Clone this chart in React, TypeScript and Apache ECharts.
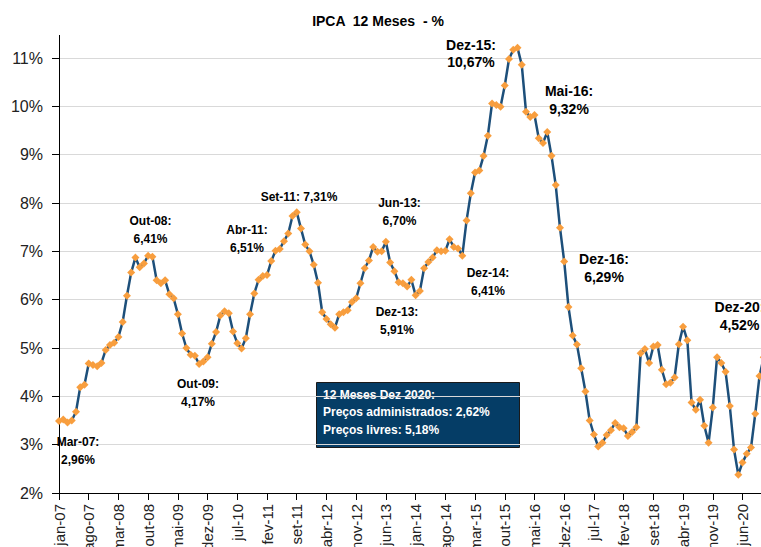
import React, { useEffect, useRef } from "react";
import * as echarts from "echarts";

const monthNames = ["jan", "fev", "mar", "abr", "mai", "jun", "jul", "ago", "set", "out", "nov", "dez"];
const yearSuffixes = ["07", "08", "09", "10", "11", "12", "13", "14", "15", "16", "17", "18", "19", "20"];

// plotted positions of the IPCA 12-month line
const ipca2007 = [3.49, 3.52, 3.46, 3.5, 3.68, 4.19, 4.24, 4.68, 4.65, 4.62, 4.69, 4.96];
const ipca2008 = [5.06, 5.11, 5.23, 5.54, 6.08, 6.56, 6.87, 6.67, 6.75, 6.91, 6.89, 6.4];
const ipca2009 = [6.34, 6.4, 6.11, 6.03, 5.7, 5.3, 5.0, 4.86, 4.84, 4.67, 4.72, 4.81];
const ipca2010 = [5.09, 5.33, 5.67, 5.76, 5.72, 5.34, 5.1, 4.99, 5.2, 5.7, 6.13, 6.41];
const ipca2011 = [6.49, 6.51, 6.8, 7.01, 7.05, 7.21, 7.37, 7.73, 7.81, 7.47, 7.14, 7.0];
const ipca2012 = [6.72, 6.35, 5.74, 5.6, 5.49, 5.42, 5.7, 5.74, 5.78, 5.95, 6.03, 6.34];
const ipca2013 = [6.65, 6.81, 7.09, 6.99, 7.0, 7.2, 6.77, 6.59, 6.36, 6.34, 6.27, 6.41];
const ipca2014 = [6.09, 6.18, 6.65, 6.78, 6.87, 7.02, 7.0, 7.01, 7.25, 7.09, 7.06, 6.91];
const ipca2015 = [7.64, 8.2, 8.63, 8.67, 8.97, 9.39, 10.06, 10.03, 9.99, 10.43, 10.98, 11.17];
const ipca2016 = [11.21, 10.86, 9.89, 9.78, 9.82, 9.34, 9.24, 9.47, 8.98, 8.37, 7.49, 6.79];
const ipca2017 = [5.85, 5.26, 5.07, 4.58, 4.1, 3.5, 3.21, 2.96, 3.04, 3.2, 3.3, 3.45];
const ipca2018 = [3.36, 3.34, 3.18, 3.26, 3.36, 4.89, 4.98, 4.69, 5.03, 5.06, 4.55, 4.25];
const ipca2019 = [4.28, 4.39, 5.08, 5.44, 5.16, 3.87, 3.72, 3.93, 3.39, 3.04, 3.77, 4.81];
const ipca2020 = [4.69, 4.51, 3.8, 2.9, 2.38, 2.63, 2.81, 2.94, 3.64, 4.42, 4.81, 5.02];

const titleText = "IPCA  12 Meses  - %";
const smallNotes = ["Mar-07:\n2,96%", "Out-08:\n6,41%", "Out-09:\n4,17%", "Abr-11:\n6,51%", "Set-11: 7,31%", "Jun-13:\n6,70%", "Dez-13:\n5,91%", "Dez-14:\n6,41%"];
const bigNotes = ["Dez-15:\n10,67%", "Mai-16:\n9,32%", "Dez-16:\n6,29%", "Dez-20:\n4,52%"];
const boxLines = ["12 Meses Dez 2020:", "Preços administrados: 2,62%", "Preços livres: 5,18%"];

const FONT = "'Liberation Sans', Arial, sans-serif";
const W = 761;
const H = 547;

export default function App() {
  const ref = useRef<HTMLDivElement>(null);

  useEffect(() => {
    document.body.style.margin = "0";
    const chart = echarts.init(ref.current as HTMLDivElement, null, { renderer: "svg", width: W, height: H });

    const categories: string[] = [];
    yearSuffixes.forEach((y) => monthNames.forEach((m) => categories.push(`${m}-${y}`)));
    const values = [
      ...ipca2007, ...ipca2008, ...ipca2009, ...ipca2010, ...ipca2011, ...ipca2012, ...ipca2013,
      ...ipca2014, ...ipca2015, ...ipca2016, ...ipca2017, ...ipca2018, ...ipca2019, ...ipca2020,
    ];

    const smallPos = [
      [78, 451], [150.5, 229.5], [198, 392.5], [247, 238.5], [299, 196.5], [399.5, 212], [397, 320.5], [488, 282],
    ];
    const bigPos = [[471, 53.5], [569, 100], [604, 268], [739.5, 316]];

    const noteEls: any[] = [];
    smallNotes.forEach((t, i) => {
      noteEls.push({
        type: "text",
        x: smallPos[i][0],
        y: smallPos[i][1],
        style: {
          text: t, fill: "#000", fontFamily: FONT, fontWeight: "bold", fontSize: 12,
          lineHeight: 18, align: "center", verticalAlign: "middle",
        },
        z: 100,
      });
    });
    bigNotes.forEach((t, i) => {
      noteEls.push({
        type: "text",
        x: bigPos[i][0],
        y: bigPos[i][1],
        style: {
          text: t, fill: "#000", fontFamily: FONT, fontWeight: "bold", fontSize: 14,
          lineHeight: 17.5, align: "center", verticalAlign: "middle",
        },
        z: 100,
      });
    });

    chart.setOption({
      animation: false,
      textStyle: { fontFamily: FONT },
      grid: { left: 59, right: -7, top: 58, bottom: 54, containLabel: false, outerBoundsMode: "none" },
      xAxis: {
        type: "category",
        data: categories,
        boundaryGap: false,
        axisLine: { show: true, lineStyle: { color: "#000", width: 1 } },
        axisTick: { show: true, interval: 6, length: 7, lineStyle: { color: "#000" } },
        axisLabel: { interval: 6, rotate: 90, fontSize: 15, color: "#222", margin: 11, fontFamily: FONT },
        splitLine: { show: false },
      },
      yAxis: {
        type: "value",
        min: 2,
        max: 11,
        interval: 1,
        axisLine: { show: true, lineStyle: { color: "#000", width: 1 } },
        axisTick: { show: true, length: 7, lineStyle: { color: "#000" } },
        axisLabel: { formatter: "{value}%", fontSize: 16, color: "#222", margin: 16, fontFamily: FONT },
        splitLine: { show: true, lineStyle: { color: "#d9d9d9", width: 1 } },
      },
      series: [
        {
          type: "line",
          data: values,
          clip: false,
          symbol: "diamond",
          symbolSize: 8,
          showAllSymbol: true,
          lineStyle: { color: "#1d4f7a", width: 2.5 },
          itemStyle: { color: "#f89e3e", borderWidth: 0 },
          z: 5,
        },
      ],
      graphic: [
        {
          type: "line",
          shape: { x1: 59.5, y1: 35, x2: 59.5, y2: 58 },
          style: { stroke: "#000", lineWidth: 1 },
        },
        {
          type: "text",
          x: 378,
          y: 21,
          style: {
            text: titleText, fill: "#000", fontFamily: FONT, fontWeight: "bold", fontSize: 14,
            align: "center", verticalAlign: "middle",
          },
        },
        {
          type: "group",
          z: 100,
          children: [
            {
              type: "rect",
              shape: { x: 316.5, y: 382.5, width: 203, height: 65 },
              style: { fill: "#053d66", stroke: "#1a1a1a", lineWidth: 1 },
            },
            ...boxLines.map((t, i) => ({
              type: "text",
              x: 323,
              y: 394.5 + i * 17.5,
              style: {
                text: t, fill: "#fff", fontFamily: FONT, fontWeight: "bold", fontSize: 12,
                align: "left", verticalAlign: "middle",
              },
            })),
          ],
        },
        ...noteEls,
      ],
    });

    return () => chart.dispose();
  }, []);

  return <div ref={ref} style={{ position: "absolute", left: 0, top: 0, width: W, height: H, overflow: "hidden" }} />;
}
